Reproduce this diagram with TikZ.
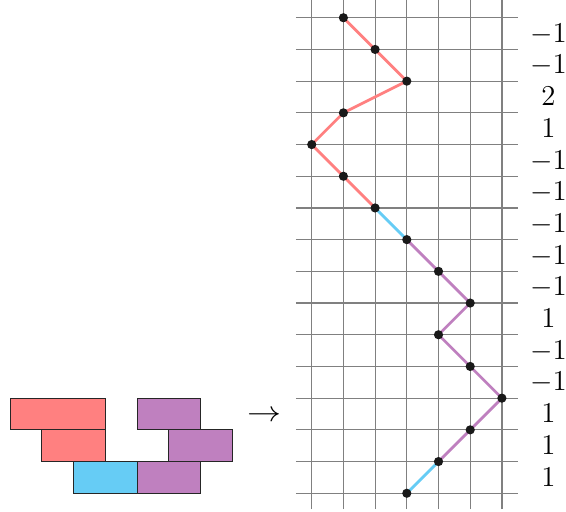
\documentclass[tikz,border=0pt]{standalone}
\definecolor{bred}{RGB}{255,128,128}
\definecolor{bpur}{RGB}{191,128,191}
\definecolor{bcyan}{RGB}{102,204,245}
\begin{document}
\begin{tikzpicture}[x=15.85pt,y=15.85pt,
  gridline/.style={draw=gray,line width=0.6pt},
  seg/.style={line width=1.4pt},
  dot/.style={circle,fill=black!90,inner sep=0pt,minimum size=4.6pt},
  brick/.style={draw=black!85,line width=0.5pt},
  lab/.style={inner sep=0pt,font=\Large,text height=0.644em,text depth=0pt}]
\useasboundingbox (-9.833,-0.59) rectangle (8.022,15.56);
\foreach \i in {0,...,6} \draw[gridline] (\i,-0.5) -- (\i,15.6);
\foreach \j in {0,...,15} \draw[gridline] (-0.5,\j) -- (6.5,\j);
\foreach \c [count=\k from 0] in {1,2,3,1,0,1,2,3,4,5,4,5,6,5,4,3}
  \coordinate (p\k) at (\c,15-\k);
\draw[seg,bred] (p0) -- (p1) -- (p2) -- (p3) -- (p4) -- (p5) -- (p6);
\draw[seg,bcyan] (p6) -- (p7);
\draw[seg,bpur] (p7) -- (p8) -- (p9) -- (p10) -- (p11) -- (p12) -- (p13) -- (p14);
\draw[seg,bcyan] (p14) -- (p15);
\foreach \k in {0,...,15} \node[dot] (d\k) at (p\k) {};
\foreach \v [count=\k from 0] in {-1,-1,2,1,-1,-1,-1,-1,-1,1,-1,-1,1,1,1}
  \node[lab] (l\k) at (7.47,14.43-\k) {$\v$};
\node[inner sep=0pt,font=\Large] (arr) at (-1.5,2.44) {\scalebox{1.18}[1]{$\rightarrow$}};
\draw[brick,fill=bred] (-9.51,2) rectangle (-6.51,3);
\draw[brick,fill=bred] (-8.51,1) rectangle (-6.51,2);
\draw[brick,fill=bpur] (-5.51,2) rectangle (-3.51,3);
\draw[brick,fill=bpur] (-4.51,1) rectangle (-2.51,2);
\draw[brick,fill=bcyan] (-7.51,0) rectangle (-5.51,1);
\draw[brick,fill=bpur] (-5.51,0) rectangle (-3.51,1);
\end{tikzpicture}
\end{document}
